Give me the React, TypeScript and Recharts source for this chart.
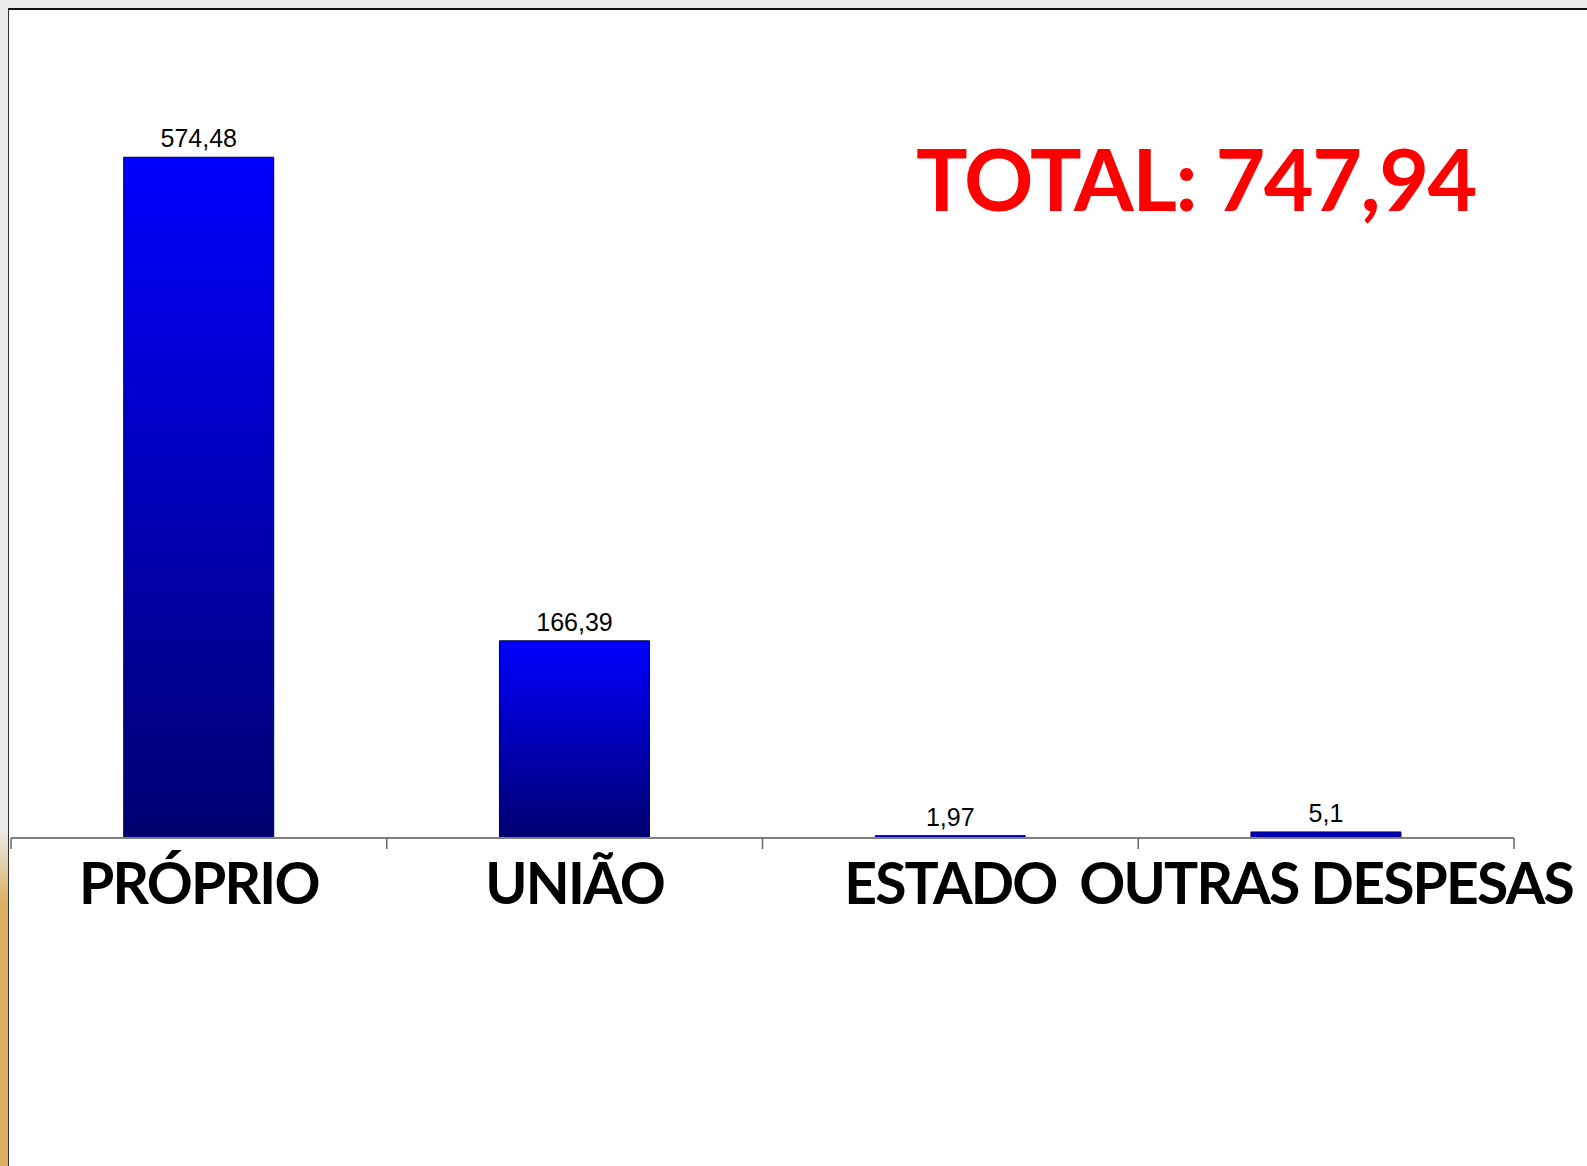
import { Bar, BarChart, LabelList, XAxis, YAxis } from "recharts";

const categories = ["PRÓPRIO", "UNIÃO", "ESTADO", "OUTRAS DESPESAS"];
const values = [574.48, 166.39, 1.97, 5.1];
const valueLabels = ["574,48", "166,39", "1,97", "5,1"];
const totalText = "TOTAL: 747,94";

const data = categories.map((c, i) => ({ name: c, value: values[i], label: valueLabels[i] }));

const W = 1587;
const H = 1166;
const M = { top: 127, right: 73, bottom: 327, left: 11 };

// label under each category plus tick marks on the category boundaries
function CatTick({ x, y, payload, index }: any) {
  const half =
    payload && typeof payload.offset === "number" && payload.offset > 0
      ? payload.offset
      : (W - M.left - M.right) / categories.length / 2;
  return (
    <g>
      {index === 0 ? (
        <line x1={x - half} x2={x - half} y1={y} y2={y + 11} stroke="#666" strokeWidth={1.5} />
      ) : null}
      <line x1={x + half} x2={x + half} y1={y} y2={y + 11} stroke="#666" strokeWidth={1.5} />
      <text
        x={x}
        y={y + 66}
        textAnchor="middle"
        fontFamily="Lato, 'Open Sans', sans-serif"
        fontWeight={700}
        fontSize={57}
        letterSpacing={-1.8}
        fill="#000"
      >
        {payload.value}
      </text>
    </g>
  );
}

export default function App() {
  return (
    <div
      style={{
        position: "absolute",
        left: 0,
        top: 0,
        width: W,
        height: H,
        background: "#ebebeb",
        overflow: "hidden",
      }}
    >
      {/* left strip from the slide background */}
      <div
        style={{
          position: "absolute",
          left: 0,
          top: 828,
          width: 8,
          height: H - 828,
          background: "linear-gradient(#ececec 0%, #dcb062 22%, #dcb062 100%)",
        }}
      />
      <div
        style={{
          position: "absolute",
          left: 8,
          top: 8,
          right: 0,
          bottom: 0,
          background: "#fff",
          borderTop: "2px solid #111",
          borderLeft: "1.5px solid #333",
        }}
      />
      <div style={{ position: "absolute", left: 0, top: 0 }}>
        <BarChart width={W} height={H} data={data} margin={M} barCategoryGap="30%">
          <defs>
            <linearGradient id="barFill" x1="0" y1="0" x2="0" y2="1">
              <stop offset="0%" stopColor="#0000ff" />
              <stop offset="100%" stopColor="#000070" />
            </linearGradient>
          </defs>
          <XAxis
            dataKey="name"
            height={1}
            axisLine={{ stroke: "#808080", strokeWidth: 2 }}
            tickLine={false}
            tickSize={0}
            tickMargin={0}
            interval={0}
            tick={<CatTick />}
          />
          <YAxis hide domain={[0, 600]} />
          <Bar
            dataKey="value"
            fill="url(#barFill)"
            stroke="#00003a"
            strokeWidth={1}
            isAnimationActive={false}
          >
            <LabelList
              dataKey="label"
              position="top"
              offset={10}
              fill="#000"
              fontSize={25}
              fontFamily="'Liberation Sans', Arial, sans-serif"
            />
          </Bar>
        </BarChart>
      </div>
      <svg
        width={W}
        height={H}
        style={{ position: "absolute", left: 0, top: 0, pointerEvents: "none" }}
      >
        <text
          x={1196}
          y={211}
          textAnchor="middle"
          fontFamily="Lato, 'Open Sans', sans-serif"
          fontWeight={700}
          fontSize={86}
          letterSpacing={-1.5}
          fill="#ff0000"
        >
          {totalText}
        </text>
      </svg>
    </div>
  );
}
